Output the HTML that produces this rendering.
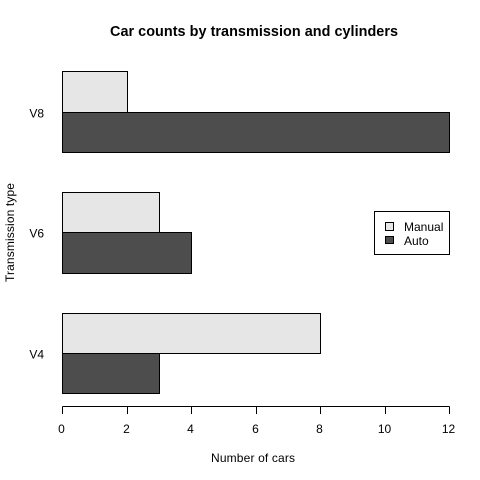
<!DOCTYPE html>
<html>
<head>
<meta charset="utf-8">
<style>
html,body{margin:0;padding:0;background:#fff;}
svg{display:block;}
text{font-family:"Liberation Sans",Arial,sans-serif;font-size:12px;fill:#000;}
</style>
</head>
<body>
<svg id="chart" width="480" height="480" viewBox="0 0 480 480" xmlns="http://www.w3.org/2000/svg">
<rect x="0" y="0" width="480" height="480" fill="#fff"/>
<text x="110" y="36" textLength="288" lengthAdjust="spacing" style="font-weight:bold;font-size:14.4px">Car counts by transmission and cylinders</text>
<g id="bars"></g>
<g id="xaxis"></g>
<g id="ylabels"></g>
<text x="211" y="462" textLength="84" lengthAdjust="spacing">Number of cars</text>
<text transform="translate(14,282) rotate(-90)" textLength="99" lengthAdjust="spacing">Transmission type</text>
<g>
<rect x="374.5" y="211.5" width="75" height="43" fill="#fff" stroke="#000" stroke-width="1"/>
<rect x="385.5" y="222.5" width="8" height="8" fill="#e6e6e6" stroke="#000" stroke-width="1"/>
<rect x="385.5" y="236.5" width="8" height="7" fill="#4d4d4d" stroke="#000" stroke-width="1"/>
<text x="404" y="231">Manual</text>
<text x="404" y="245">Auto</text>
</g>
</svg>
<script>
const categories = ["V4", "V6", "V8"];
const manualCounts = [8, 3, 2];
const autoCounts = [3, 4, 12];
const xTicks = [0, 2, 4, 6, 8, 10, 12];

const svgNS = "http://www.w3.org/2000/svg";
function snap(p) { return Math.floor(p) + 0.5; }
function xScale(v) { return snap(62.5 + v * (387 / 12)); }
function yScale(u) { return snap(393.75 - u * 40.25); }

function make(tag, attrs, parent) {
  const el = document.createElementNS(svgNS, tag);
  for (const k in attrs) el.setAttribute(k, attrs[k]);
  parent.appendChild(el);
  return el;
}

const barsG = document.getElementById("bars");
const xaxisG = document.getElementById("xaxis");
const ylabelsG = document.getElementById("ylabels");

categories.forEach(function (cat, i) {
  const base = i * 3;
  const x0 = xScale(0);

  const auto = make("rect", {
    x: x0, y: yScale(base + 1),
    width: xScale(autoCounts[i]) - x0,
    height: yScale(base) - yScale(base + 1),
    fill: "#4d4d4d", stroke: "#000", "stroke-width": 1
  }, barsG);
  
  

  const manual = make("rect", {
    x: x0, y: yScale(base + 2),
    width: xScale(manualCounts[i]) - x0,
    height: yScale(base + 1) - yScale(base + 2),
    fill: "#e6e6e6", stroke: "#000", "stroke-width": 1
  }, barsG);
  
  

  const label = make("text", {
    x: 44, y: yScale(base + 1) + 5, "text-anchor": "end"
  }, ylabelsG);
  label.textContent = cat;
  
  
});

const axisLine = make("line", {
  x1: xScale(xTicks[0]), x2: xScale(xTicks[xTicks.length - 1]),
  y1: 406.5, y2: 406.5, stroke: "#000", "stroke-width": 1
}, xaxisG);



xTicks.forEach(function (t) {
  const px = xScale(t);
  const tick = make("line", {
    x1: px, x2: px, y1: 406.5, y2: 414, stroke: "#000", "stroke-width": 1
  }, xaxisG);
  
  

  const label = make("text", {
    x: px - 1, y: 433, "text-anchor": "middle"
  }, xaxisG);
  label.textContent = t;
  
  
});
</script>
</body>
</html>
